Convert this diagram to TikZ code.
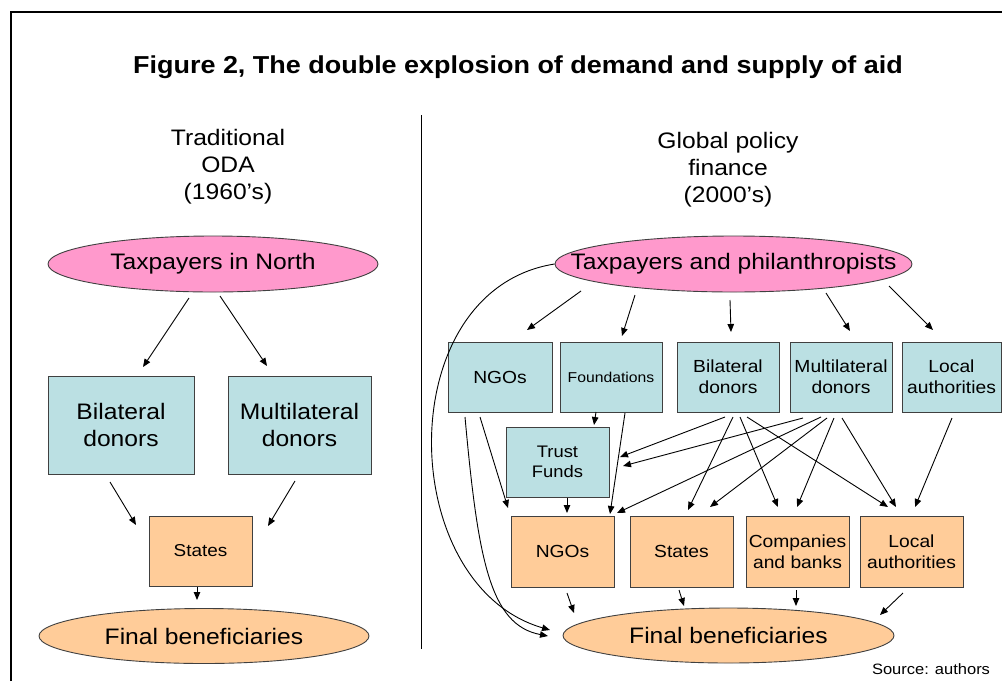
\documentclass[tikz,border=0pt]{standalone}
\usepackage{fontspec}
\setmainfont[FakeStretch=1.1]{Liberation Sans}
\usetikzlibrary{shapes.geometric,arrows.meta}
\definecolor{pinkfill}{HTML}{FF99CC}
\definecolor{tealfill}{HTML}{BBE0E3}
\definecolor{orangefill}{HTML}{FFCC99}
\definecolor{edgegray}{HTML}{404040}
\tikzset{
  big/.style={font=\fontsize{22.4}{26.9}\selectfont},
  mid/.style={font=\fontsize{17.5}{21}\selectfont},
  ell/.style={ellipse, draw=edgegray, line width=0.9pt, inner sep=0pt, align=center, big},
  boxnode/.style={rectangle, draw=edgegray, line width=0.9pt, inner sep=0pt, align=center},
  tealbox/.style={boxnode, fill=tealfill},
  orbox/.style={boxnode, fill=orangefill},
  arr/.style={line width=0.9pt, -{Triangle[length=8pt,width=6.5pt]}},
  plain/.style={align=center, inner sep=0pt}
}
\begin{document}
\begin{tikzpicture}[x=1pt,y=-1pt]
\useasboundingbox (0,0) rectangle (1002,681);
% frame
\draw[line width=2pt] (11,681) -- (11,12) -- (1002,12);
\draw[line width=0.8pt] (421,115) -- (421,649);
% title
\node[plain, font=\bfseries\fontsize{24.5}{29}\selectfont] (title) at (518,67) {Figure 2, The double explosion of demand and supply of aid};
\node[plain, big] (hl) at (228,167) {Traditional\\ODA\\(1960’s)};
\node[plain, big] (hr) at (728,170) {Global policy\\finance\\(2000’s)};
\node[plain, font=\fontsize{15}{18}\selectfont] (src) at (931,669) {Source: authors};

% left side
\node[ell, fill=pinkfill, minimum width=330pt, minimum height=56pt] (TN) at (213,264) {Taxpayers in North};
\node[tealbox, big, minimum width=146pt, minimum height=98pt] (LB) at (121,425) {Bilateral\\donors};
\node[tealbox, big, minimum width=143pt, minimum height=98pt] (LM) at (299.5,425) {Multilateral\\donors};
\node[orbox, font=\fontsize{17.2}{20.6}\selectfont, minimum width=103pt, minimum height=70pt] (LS) at (200.5,551) {States};
\node[ell, fill=orangefill, minimum width=330pt, minimum height=55pt] (LF) at (204,636) {Final beneficiaries};

\draw[arr] ([shift={(-24,34)}]TN.center) -- ([shift={(22,-58)}]LB.center);
\draw[arr] ([shift={(7,32)}]TN.center) -- ([shift={(-32.5,-59)}]LM.center);
\draw[arr] ([shift={(-11,57)}]LB.center) -- ([shift={(-64.5,-26)}]LS.center);
\draw[arr] ([shift={(-4.5,56)}]LM.center) -- ([shift={(67.5,-25)}]LS.center);
\draw[arr] ([shift={(-3.5,36)}]LS.center) -- ([shift={(-7,-36)}]LF.center);

% right side
\node[ell, fill=pinkfill, inner xsep=-45pt, minimum width=357pt, minimum height=56pt] (TP) at (733.5,264) {Taxpayers and philanthropists};
\node[tealbox, mid, minimum width=104pt, minimum height=70pt] (RNGO) at (500,377) {NGOs};
\node[tealbox, font=\fontsize{14.3}{17}\selectfont, minimum width=102pt, minimum height=70pt] (RFound) at (611,377) {Foundations};
\node[tealbox, mid, minimum width=102pt, minimum height=70pt] (RBil) at (728,377) {Bilateral\\donors};
\node[tealbox, mid, minimum width=102pt, minimum height=70pt] (RMul) at (841,377) {Multilateral\\donors};
\node[tealbox, mid, minimum width=99pt, minimum height=70pt] (RLoc) at (951.5,377) {Local\\authorities};
\node[tealbox, font=\fontsize{16.7}{20}\selectfont, minimum width=103pt, minimum height=70pt] (Trust) at (557.5,462) {Trust\\Funds};
\node[orbox, mid, minimum width=103pt, minimum height=71pt] (BNGO) at (562.5,551.5) {NGOs};
\node[orbox, mid, minimum width=103pt, minimum height=71pt] (BSt) at (681.5,551.5) {States};
\node[orbox, mid, minimum width=103pt, minimum height=71pt] (BCo) at (797.5,551.5) {Companies\\and banks};
\node[orbox, mid, minimum width=103pt, minimum height=71pt] (BLoc) at (911.5,551.5) {Local\\authorities};
\node[ell, fill=orangefill, minimum width=331pt, minimum height=55pt] (RF) at (728.5,635.5) {Final beneficiaries};

\draw[arr] ([shift={(-152.5,27)}]TP.center) -- ([shift={(27,-47)}]RNGO.center);
\draw[arr] ([shift={(-98.5,31)}]TP.center) -- ([shift={(11,-41)}]RFound.center);
\draw[arr] ([shift={(-3.5,36)}]TP.center) -- ([shift={(3,-45)}]RBil.center);
\draw[arr] ([shift={(92.5,29)}]TP.center) -- ([shift={(9,-46)}]RMul.center);
\draw[arr] ([shift={(155.5,22)}]TP.center) -- ([shift={(-18.5,-47)}]RLoc.center);

\draw[arr] ([shift={(-20,40)}]RNGO.center) -- ([shift={(-54.5,-43.5)}]BNGO.center);
\draw[arr] ([shift={(-15,35)}]RFound.center) -- ([shift={(36.5,-37)}]Trust.center);
\draw[arr] ([shift={(14,36)}]RFound.center) -- ([shift={(47.5,-37.5)}]BNGO.center);
\draw[arr] ([shift={(9.5,36)}]Trust.center) -- ([shift={(4.5,-38.5)}]BNGO.center);
\draw[arr] ([shift={(-3,40)}]RBil.center) -- ([shift={(62.5,-5)}]Trust.center);
\draw[arr] ([shift={(-38,41)}]RMul.center) -- ([shift={(65.5,4)}]Trust.center);
\draw[arr] ([shift={(-20,40)}]RMul.center) -- ([shift={(54.5,-38.5)}]BNGO.center);
\draw[arr] ([shift={(5,40)}]RBil.center) -- ([shift={(6.5,-41.5)}]BSt.center);
\draw[arr] ([shift={(-14,41)}]RMul.center) -- ([shift={(28.5,-44.5)}]BSt.center);
\draw[arr] ([shift={(12,40)}]RBil.center) -- ([shift={(-19.5,-44.5)}]BCo.center);
\draw[arr] ([shift={(-7,41)}]RMul.center) -- ([shift={(-0.5,-44.5)}]BCo.center);
\draw[arr] ([shift={(19,40)}]RBil.center) -- ([shift={(-23.5,-44.5)}]BLoc.center);
\draw[arr] ([shift={(1,41)}]RMul.center) -- ([shift={(-15.5,-44.5)}]BLoc.center);
\draw[arr] ([shift={(0.5,41)}]RLoc.center) -- ([shift={(3.5,-44.5)}]BLoc.center);

\draw[arr] ([shift={(4.5,41.5)}]BNGO.center) -- ([shift={(-154.5,-22.5)}]RF.center);
\draw[arr] ([shift={(-2.5,38.5)}]BSt.center) -- ([shift={(-44.5,-29.5)}]RF.center);
\draw[arr] ([shift={(-1.5,38.5)}]BCo.center) -- ([shift={(67.5,-29.5)}]RF.center);
\draw[arr] ([shift={(-8.5,41.5)}]BLoc.center) -- ([shift={(151.5,-20.5)}]RF.center);

\draw[arr] (TP.west) .. controls (390,290) and (395,585) .. ([shift={(-178.5,-5.5)}]RF.center);
\draw[arr] ([shift={(-35,40)}]RNGO.center) .. controls (478,560) and (490,625) .. ([shift={(-180.5,0.5)}]RF.center);
\end{tikzpicture}
\end{document}
